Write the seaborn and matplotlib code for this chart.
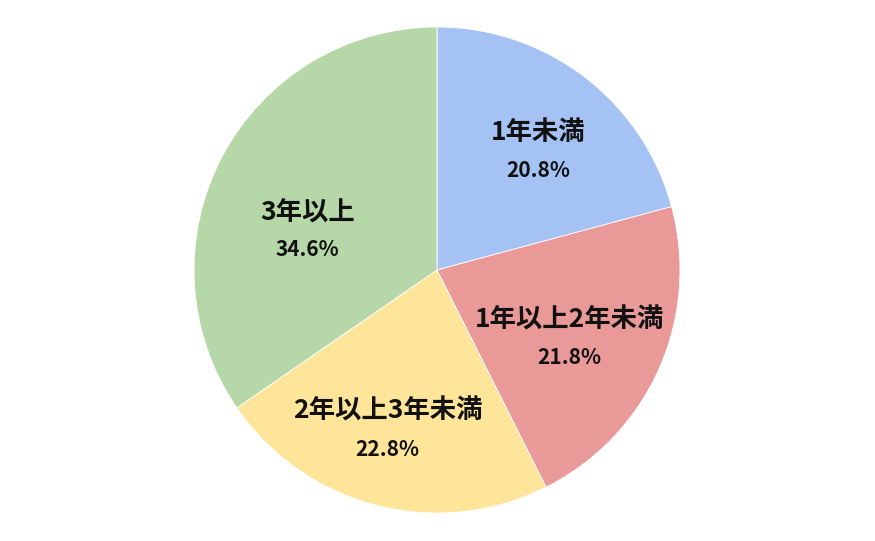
import numpy as np
import matplotlib
matplotlib.use("Agg")
import matplotlib.pyplot as plt
import seaborn as sns

# データ
categories = ["1年未満", "1年以上2年未満", "2年以上3年未満", "3年以上"]
shares = [20.8, 21.8, 22.8, 34.6]
colors = ["#a4c2f4", "#ea9999", "#ffe599", "#b6d7a8"]

# ラベル位置の調整（半径比, 角度ずらし）
label_r = [0.65, 0.61, 0.68, 0.56]
label_dang = [-2.5, -2.5, -3.0, 10.0]

sns.set_theme(style="white")
plt.rcParams["font.family"] = ["Noto Sans CJK JP", "DejaVu Sans"]

fig = plt.figure(figsize=(8.75, 5.41), dpi=100)
ax = fig.add_axes([194 / 875, 28 / 541, 486 / 875, 486 / 541])

wedges, _ = ax.pie(
    shares,
    colors=colors,
    startangle=90,
    counterclock=False,
    radius=1.0,
    wedgeprops={"edgecolor": "white", "linewidth": 0.6},
)
ax.set_xlim(-1, 1)
ax.set_ylim(-1, 1)
ax.set_aspect("equal")
ax.axis("off")

for w, name, val, r, da in zip(wedges, categories, shares, label_r, label_dang):
    ang = np.deg2rad((w.theta1 + w.theta2) / 2 + da)
    x, y = r * np.cos(ang), r * np.sin(ang)
    ax.text(x, y + 0.068, name, ha="center", va="center",
            fontsize=19, fontweight="bold", color="#111111")
    ax.text(x, y - 0.088, f"{val:.1f}%", ha="center", va="center",
            fontsize=15, fontweight="bold", color="#111111")

fig.savefig("out.png", dpi=100)
